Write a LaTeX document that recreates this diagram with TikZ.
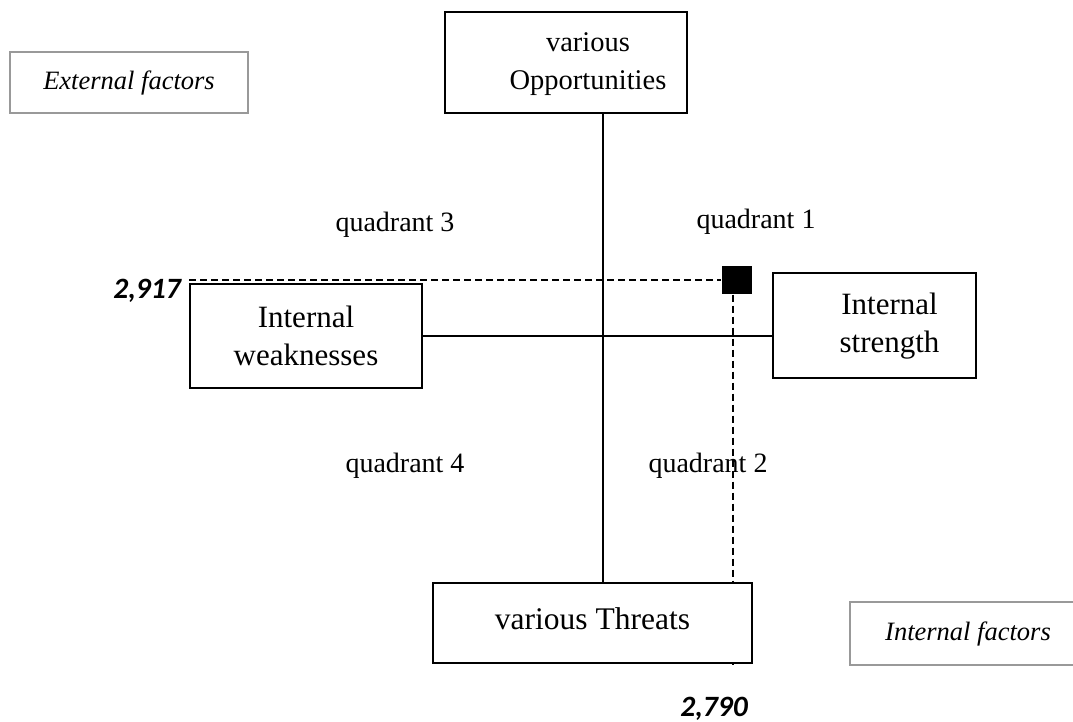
\documentclass[tikz,border=0pt]{standalone}
\usepackage{fontspec}
\setmainfont{Liberation Serif}
\newfontfamily\numfont{Carlito}
\usepackage{tikz}
\usetikzlibrary{positioning}

% text block pushed to the right inside its box
\newcommand\pushtext[2]{\hspace*{#1}\begin{tabular}{@{}c@{}}#2\end{tabular}}

\begin{document}
\begin{tikzpicture}[x=1pt, y=-1pt, line width=1.4pt,
    box/.style={draw, fill=white, rectangle, align=center, inner sep=0pt, font=\fontsize{31}{38}\selectfont},
    factor/.style={draw=black!40, rectangle, inner sep=0pt, font=\fontsize{26.5}{30}\selectfont\itshape},
    quad/.style={font=\fontsize{28}{32}\selectfont},
    score/.style={font=\numfont\bfseries\itshape\fontsize{29.5}{32}\selectfont},
    guide/.style={dash pattern=on 7pt off 4pt, line width=1.3pt}]
  \useasboundingbox (0,0) rectangle (1073,722);
  \node[factor, minimum width=238pt, minimum height=61pt] (ext) at (129,82.5) {External factors};
  \node[factor, minimum width=236pt, minimum height=63pt] (intf) at (968,633.5) {Internal factors};
  \node[box, minimum width=242pt, minimum height=101pt, font=\fontsize{28.5}{38}\selectfont] (opp) at (566,62.5) {\pushtext{44pt}{various\\Opportunities}};
  \node[box, minimum width=232pt, minimum height=104pt] (weak) at (306,336) {Internal\\weaknesses};
  \node[box, minimum width=203pt, minimum height=105pt] (str) at (874.5,325.5) {\pushtext{30pt}{Internal\\strength}};
  \node[fill, minimum width=30pt, minimum height=28pt, inner sep=0pt] (pt) at (737,280) {};

  \coordinate (vx) at (603,0);
  \coordinate (vend) at (733,668);

  % position of the score
  \draw[guide] (weak.north west |- pt) -- (pt.west);
  \draw[guide] (pt.south -| vend) -- (vend);

  \node[box, minimum width=319pt, minimum height=80pt, font=\fontsize{31.5}{38}\selectfont] (thr) at (592.5,623) {\raisebox{8pt}{various Threats}};

  \node[quad] (q3) at (395,225) {quadrant 3};
  \node[quad] (q1) at (756,222) {quadrant 1};
  \node[quad] (q4) at (405,466) {quadrant 4};
  \node[quad] (q2) at (708,466) {quadrant 2};

  \node[score] (sw) at (147,291) {2,917};
  \node[score] (so) at (714,709) {2,790};

  % axes
  \draw (opp.south -| vx) -- (thr.north -| vx);
  \draw (weak.east) -- (weak.east -| str.west);
\end{tikzpicture}
\end{document}
